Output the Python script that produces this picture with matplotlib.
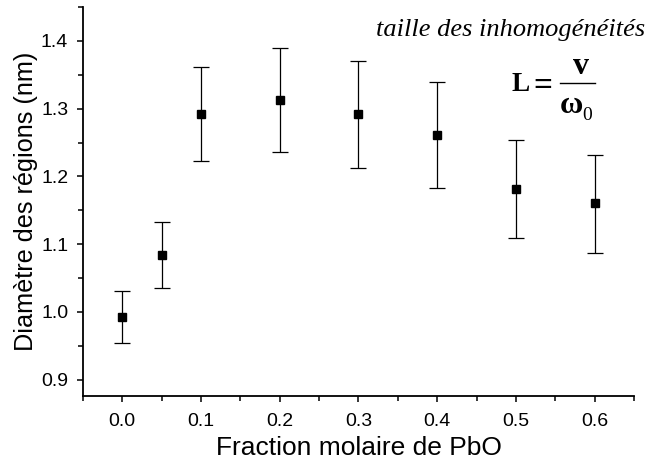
import matplotlib

matplotlib.use("Agg")

import matplotlib.pyplot as plt
from matplotlib.lines import Line2D
from matplotlib.ticker import MultipleLocator

# valeurs
fraction_pbo = [0.0, 0.05, 0.1, 0.2, 0.3, 0.4, 0.5, 0.6]
diametre = [0.992, 1.084, 1.292, 1.313, 1.292, 1.261, 1.182, 1.161]
err_haut = [1.031, 1.132, 1.362, 1.390, 1.370, 1.340, 1.254, 1.232]
err_bas = [0.954, 1.036, 1.222, 1.236, 1.213, 1.183, 1.109, 1.087]

x_ticks = [0.0, 0.1, 0.2, 0.3, 0.4, 0.5, 0.6]
y_ticks = [0.9, 1.0, 1.1, 1.2, 1.3, 1.4]

plt.rcParams["font.family"] = ["Liberation Sans", "DejaVu Sans"]

fig = plt.figure(figsize=(6.47, 4.68), dpi=100)
ax = fig.add_axes([0.128, 0.154, 0.852, 0.831])

yerr = [
    [d - b for d, b in zip(diametre, err_bas)],
    [h - d for d, h in zip(diametre, err_haut)],
]
ax.errorbar(
    fraction_pbo, diametre, yerr=yerr, fmt="s", color="black",
    markersize=6.2, elinewidth=0.9, capsize=6, capthick=0.9,
)

ax.set_xlim(-0.05, 0.65)
ax.set_ylim(0.876, 1.45)
ax.set_xticks(x_ticks)
ax.set_xticklabels([f"{v:.1f}" for v in x_ticks])
ax.set_yticks(y_ticks)
ax.set_yticklabels([f"{v:.1f}" for v in y_ticks])
ax.xaxis.set_minor_locator(MultipleLocator(0.05))
ax.yaxis.set_minor_locator(MultipleLocator(0.05))

for side in ("top", "right"):
    ax.spines[side].set_visible(False)
for side in ("left", "bottom"):
    ax.spines[side].set_linewidth(1.3)
ax.tick_params(which="both", direction="out", width=1.1, labelsize=14)
ax.tick_params(which="major", length=4.5)
ax.tick_params(which="minor", length=3.5)
ax.tick_params(axis="x", which="major", pad=8)
ax.tick_params(axis="y", which="major", pad=6)

ax.set_xlabel("Fraction molaire de PbO", fontsize=19, labelpad=4)
ax.set_ylabel("Diamètre des régions (nm)", fontsize=18.2, labelpad=2)

fig.text(0.997, 0.935, "taille des inhomogénéités", ha="right", va="center",
         fontsize=19, style="italic", family="Liberation Serif")

# L = v / omega_0, dessiné morceau par morceau
serif = "Liberation Serif"
fig.text(0.791, 0.8056, "L", ha="left", va="baseline", fontsize=19.5,
         fontweight="bold", family=serif)
fig.text(0.8395, 0.798, "=", ha="center", va="baseline", fontsize=24,
         fontweight="bold", family=serif)
fig.text(0.898, 0.842, "v", ha="center", va="baseline", fontsize=23,
         fontweight="bold", family=serif)
fig.add_artist(Line2D([0.866, 0.920], [0.8226, 0.8226], color="black",
                      linewidth=1.0, transform=fig.transFigure))
fig.text(0.883, 0.7585, "ω", ha="center", va="baseline", fontsize=23,
         fontweight="bold", family=serif)
fig.text(0.9, 0.7436, "0", ha="left", va="baseline", fontsize=14,
         family=serif)

fig.savefig("out.png", dpi=100)
